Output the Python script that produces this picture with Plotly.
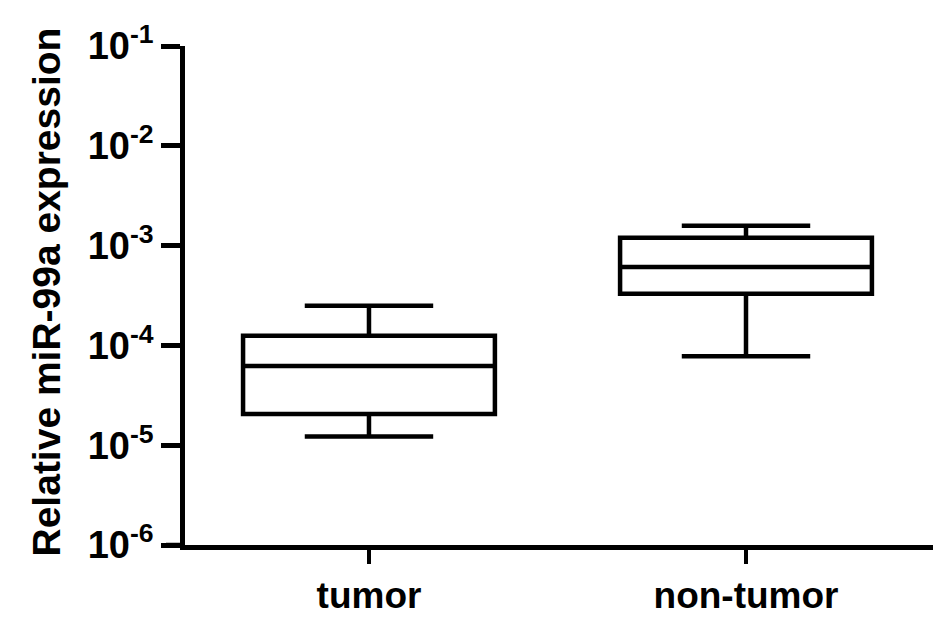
import plotly.graph_objects as go

categories = ["tumor", "non-tumor"]
lower_whisker = [1.22e-5, 7.8e-5]
q1_vals = [2.05e-5, 3.3e-4]
median_vals = [6.2e-5, 6.1e-4]
q3_vals = [1.25e-4, 1.2e-3]
upper_whisker = [2.5e-4, 1.58e-3]

tick_vals = [1e-6, 1e-5, 1e-4, 1e-3, 1e-2, 1e-1]
tick_text = ["10<sup>-6</sup>", "10<sup>-5</sup>", "10<sup>-4</sup>",
             "10<sup>-3</sup>", "10<sup>-2</sup>", "10<sup>-1</sup>"]
y_title = "Relative miR-99a expression"

FONT = "Liberation Sans, Arial, sans-serif"
L, R, T, B = 177, 20, 38, 84
PW = 945 - L - R

fig = go.Figure()
fig.add_trace(go.Box(
    x=categories,
    lowerfence=lower_whisker,
    q1=q1_vals,
    median=median_vals,
    q3=q3_vals,
    upperfence=upper_whisker,
    width=0.668,
    whiskerwidth=0.51,
    line=dict(color="black", width=4.5),
    fillcolor="rgba(255,255,255,0)",
    boxpoints=False,
    showlegend=False,
))

fig.update_layout(
    width=945, height=621,
    margin=dict(l=L, r=R, t=T, b=B, autoexpand=False),
    plot_bgcolor="white", paper_bgcolor="white",
    font=dict(family=FONT, color="black"),
    xaxis=dict(
        type="category",
        range=[-0.488, 1.496],
        automargin=False,
        showline=True, linecolor="black", linewidth=4.5,
        ticks="outside", ticklen=14, tickwidth=4, tickcolor="black",
        tickfont=dict(size=37, family=FONT, weight="bold"),
        showgrid=False, zeroline=False,
    ),
    yaxis=dict(
        type="log",
        range=[-6, -1],
        automargin=False,
        tickvals=tick_vals, ticktext=tick_text,
        showline=True, linecolor="black", linewidth=4.5,
        ticks="outside", ticklen=19, tickwidth=4.5, tickcolor="black",
        tickfont=dict(size=38, family=FONT, weight="bold"),
        showgrid=False, zeroline=False,
    ),
    annotations=[dict(
        text=y_title, textangle=-90,
        xref="paper", yref="paper", x=0, y=0.5,
        xshift=-(L - 38), yshift=3,
        xanchor="center", yanchor="middle", showarrow=False,
        font=dict(size=39, family=FONT, weight="bold", color="black"),
    )],
    shapes=[dict(type="line", xref="paper", yref="paper",
                 x0=-19 / PW, x1=0, y0=0, y1=0,
                 line=dict(color="black", width=4.5))],
)

fig.write_html("out.html")
